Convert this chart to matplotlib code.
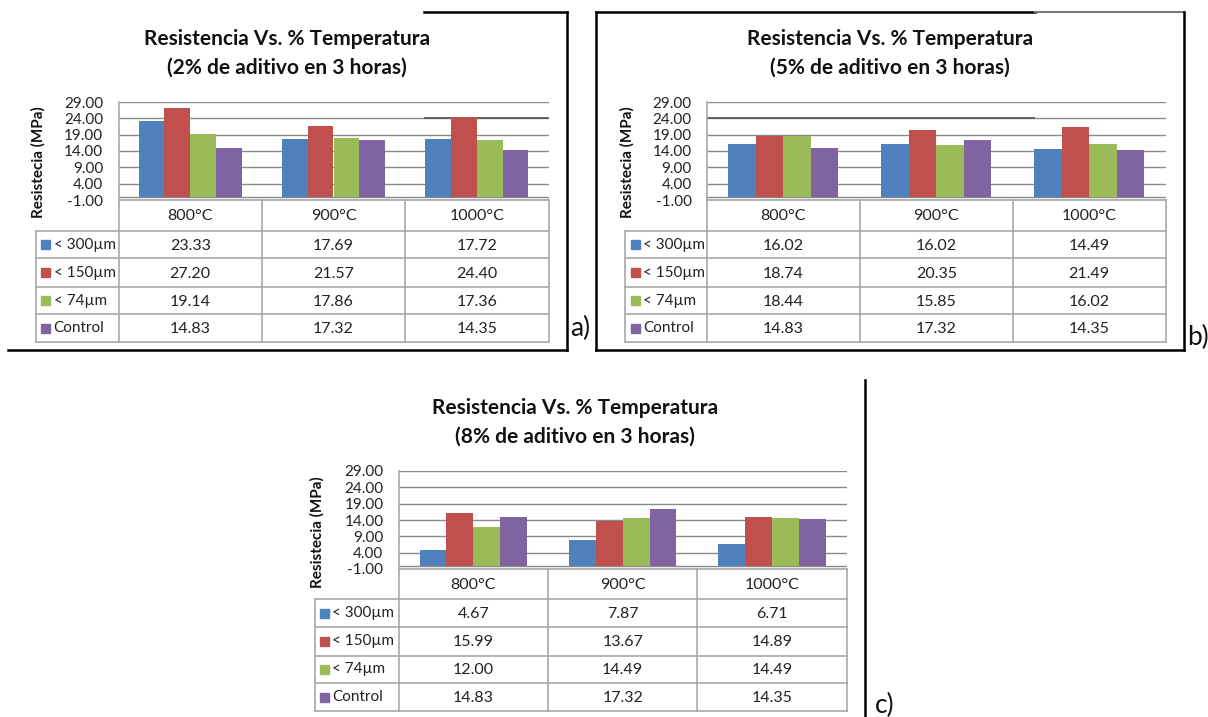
import matplotlib
matplotlib.use("Agg")
import matplotlib.pyplot as plt
from matplotlib.patches import Rectangle

plt.rcParams['font.family'] = ['Lato', 'DejaVu Sans']

# ---- data ----
categories = ['800°C', '900°C', '1000°C']
series_names = ['< 300µm', '< 150µm', '< 74µm', 'Control']
series_colors = ['#4F81BD', '#C0504D', '#9BBB59', '#8064A2']
yticks = [-1, 4, 9, 14, 19, 24, 29]

titles = ['(2% de aditivo en 3 horas)',
          '(5% de aditivo en 3 horas)',
          '(8% de aditivo en 3 horas)']
main_title = 'Resistencia Vs. % Temperatura'
ylabel = 'Resistecia (MPa)'
panel_tags = ['a)', 'b)', 'c)']

values_a = [[23.33, 17.69, 17.72],
            [27.20, 21.57, 24.40],
            [19.14, 17.86, 17.36],
            [14.83, 17.32, 14.35]]
values_b = [[16.02, 16.02, 14.49],
            [18.74, 20.35, 21.49],
            [18.44, 15.85, 16.02],
            [14.83, 17.32, 14.35]]
values_c = [[4.67, 7.87, 6.71],
            [15.99, 13.67, 14.89],
            [12.00, 14.49, 14.49],
            [14.83, 17.32, 14.35]]

W, H = 1208, 717
fig = plt.figure(figsize=(W / 100, H / 100), dpi=100)
fig.patch.set_facecolor('white')

# overlay in pixel coordinates for tables, titles and frames
ov = fig.add_axes([0, 0, 1, 1], zorder=5)
ov.set_xlim(0, W)
ov.set_ylim(H, 0)
ov.axis('off')
ov.patch.set_alpha(0)

GRID = '#8a8a8a'
TLINE = '#a8a8a8'

layouts = [
    dict(px0=118.5, px1=548.5, py0=102, py1=200, hdr=231,
         rows=[258, 287, 314, 342], leg=35.5, tcx=287, ty=(39, 68),
         ylx=38, yly=162, tag=(580, 328), dark=(2.13, 3.0)),
    dict(px0=707, px1=1165.5, py0=102, py1=200, hdr=231,
         rows=[258, 287, 314, 342], leg=625, tcx=890, ty=(39, 68),
         ylx=627, yly=162, tag=(1198, 337), dark=(0.0, 2.143)),
    dict(px0=398.7, px1=846.7, py0=471, py1=569, hdr=599,
         rows=[627, 656, 683, 711], leg=314.5, tcx=575, ty=(408, 437),
         ylx=317, yly=532, tag=(885, 705), dark=None),
]

for values, title2, tag, L in zip([values_a, values_b, values_c], titles, panel_tags, layouts):
    ax = fig.add_axes([L['px0'] / W, 1 - L['py1'] / H,
                       (L['px1'] - L['px0']) / W, (L['py1'] - L['py0']) / H])
    ax.set_xlim(0, 3)
    ax.set_ylim(-1, 29)
    ax.set_yticks(yticks)
    ax.set_yticklabels([f'{t:.2f}' for t in yticks], fontsize=11, color='#222222')
    ax.tick_params(axis='y', length=0, pad=11)
    ax.set_xticks([])
    ax.yaxis.grid(True, color=GRID, lw=1.0)
    ax.set_axisbelow(True)
    for s in ['top', 'right', 'bottom']:
        ax.spines[s].set_visible(False)
    ax.spines['left'].set_color(TLINE)
    ax.spines['left'].set_linewidth(1.2)
    ax.axhline(0, color=GRID, lw=1.0, zorder=1)
    if L['dark'] is not None:
        ax.hlines(24, L['dark'][0], L['dark'][1], color='#5a5a5a', lw=1.3, zorder=1)

    bw = 0.18
    for i, (vals, col) in enumerate(zip(values, series_colors)):
        xs = [k + 0.5 + (i - 1.5) * bw for k in range(3)]
        ax.bar(xs, vals, width=bw, color=col, zorder=2)

    # titles
    ov.text(L['tcx'], L['ty'][0], main_title, ha='center', va='center',
            fontsize=15, fontweight='bold', color='#111111')
    ov.text(L['tcx'], L['ty'][1], title2, ha='center', va='center',
            fontsize=15, fontweight='bold', color='#111111')
    ov.text(L['ylx'], L['yly'], ylabel, rotation=90, ha='center', va='center',
            fontsize=11, fontweight='bold', color='#111111')
    ov.text(L['tag'][0], L['tag'][1], tag, ha='center', va='center',
            fontsize=19, color='#111111')

    # data table
    x0, x1 = L['px0'], L['px1']
    cols = [x0 + (x1 - x0) * k / 3 for k in range(4)]
    top, hdr, rows = L['py1'], L['hdr'], L['rows']
    bottom = rows[-1]
    lk = dict(color=TLINE, lw=1.2)
    ov.plot([x0, x1], [top, top], **lk)
    ov.plot([L['leg'], x1], [hdr, hdr], **lk)
    for r in rows:
        ov.plot([L['leg'], x1], [r, r], **lk)
    for c in cols:
        ov.plot([c, c], [top, bottom], **lk)
    ov.plot([L['leg'], L['leg']], [hdr, bottom], **lk)
    for k, cat in enumerate(categories):
        ov.text((cols[k] + cols[k + 1]) / 2, (top + hdr) / 2 + 1, cat,
                ha='center', va='center', fontsize=11.5, color='#222222')
    row_edges = [hdr] + rows
    for i, (name, col, vals) in enumerate(zip(series_names, series_colors, values)):
        yc = (row_edges[i] + row_edges[i + 1]) / 2
        ov.add_patch(Rectangle((L['leg'] + 5.5, yc - 4.5), 9, 9, color=col))
        ov.text(L['leg'] + 18, yc, name, ha='left', va='center',
                fontsize=11, color='#222222')
        for k, v in enumerate(vals):
            ov.text((cols[k] + cols[k + 1]) / 2, yc + 1, f'{v:.2f}',
                    ha='center', va='center', fontsize=11.5, color='#222222')

# panel frames
fk = dict(color='black', lw=1.8)
ov.plot([423.5, 566.5], [12, 12], **fk)
ov.plot([566.5, 566.5], [12, 350], **fk)
ov.plot([7.6, 566.5], [350, 350], **fk)
ov.plot([596, 596], [12, 350], **fk)
ov.plot([596, 1035], [12, 12], **fk)
ov.plot([1035, 1184], [12, 12], color='#777777', lw=1.5)
ov.plot([1184, 1184], [12, 350], **fk)
ov.plot([596, 1184], [350, 350], **fk)
ov.plot([865, 865], [380, 717], **fk)

fig.savefig('out.png', dpi=100, facecolor='white')
